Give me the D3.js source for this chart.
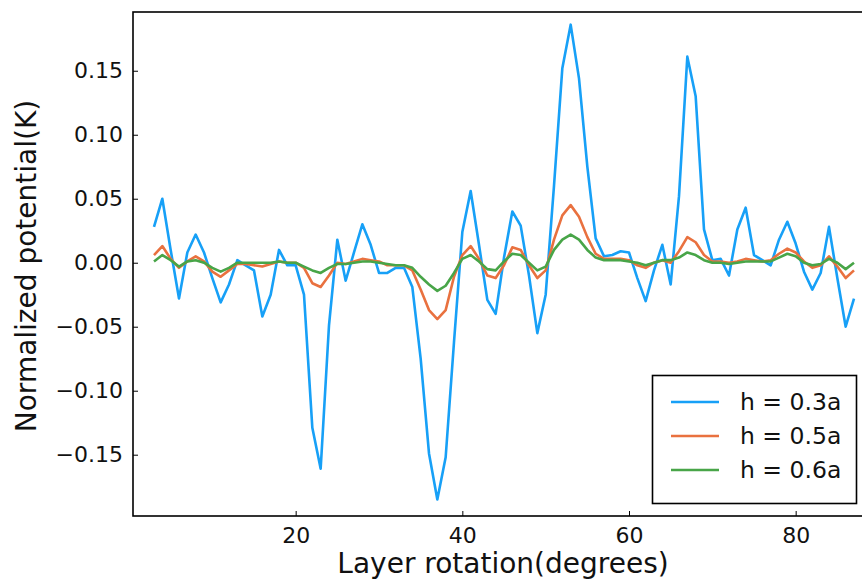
<!DOCTYPE html>
<html>
<head>
<meta charset="utf-8">
<script src="https://cdn.jsdelivr.net/npm/d3@7"></script>
<style>
  html, body { margin: 0; padding: 0; background: #fff; }
  svg { display: block; font-family: "DejaVu Sans", sans-serif; }
</style>
</head>
<body>
<svg id="chart" width="862" height="583"></svg>
<script>
const degrees = d3.range(3, 88);

const h03 = [0.028, 0.050, 0.010, -0.028, 0.008, 0.022, 0.008, -0.012, -0.031, -0.017,
  0.002, -0.002, -0.006, -0.042, -0.025, 0.010, -0.002, -0.002, -0.025, -0.129,
  -0.161, -0.049, 0.018, -0.014, 0.008, 0.030, 0.014, -0.008, -0.008, -0.004,
  -0.004, -0.019, -0.075, -0.149, -0.185, -0.152, -0.062, 0.024, 0.056, 0.014,
  -0.029, -0.040, 0.004, 0.040, 0.029, -0.010, -0.055, -0.025, 0.060, 0.152,
  0.186, 0.144, 0.075, 0.019, 0.005, 0.006, 0.009, 0.008, -0.012, -0.030,
  -0.006, 0.014, -0.017, 0.052, 0.161, 0.130, 0.026, 0.002, 0.003, -0.010,
  0.026, 0.043, 0.006, 0.002, -0.002, 0.018, 0.032, 0.015, -0.007, -0.021,
  -0.008, 0.028, -0.012, -0.050, -0.028];

const h05 = [0.006, 0.013, 0.003, -0.004, 0.001, 0.005, 0.001, -0.007, -0.011, -0.006,
  -0.001, -0.001, -0.002, -0.003, -0.001, 0.001, 0.000, 0.000, -0.004, -0.016,
  -0.019, -0.010, 0.000, -0.001, 0.001, 0.003, 0.002, 0.001, -0.002, -0.002,
  -0.002, -0.006, -0.021, -0.037, -0.044, -0.037, -0.011, 0.006, 0.013, 0.003,
  -0.010, -0.012, -0.002, 0.012, 0.010, -0.002, -0.012, -0.006, 0.018, 0.037,
  0.045, 0.036, 0.020, 0.007, 0.003, 0.003, 0.003, 0.002, -0.002, -0.004,
  0.000, 0.002, 0.000, 0.009, 0.020, 0.016, 0.006, 0.001, 0.001, 0.000,
  0.001, 0.003, 0.002, 0.001, 0.002, 0.007, 0.011, 0.008, 0.001, -0.004,
  -0.002, 0.005, -0.003, -0.012, -0.006];

const h06 = [0.001, 0.006, 0.002, -0.003, 0.001, 0.002, 0.000, -0.004, -0.007, -0.004,
  0.000, 0.000, 0.000, 0.000, 0.000, 0.001, 0.000, 0.000, -0.003, -0.006,
  -0.008, -0.004, -0.001, -0.001, 0.000, 0.001, 0.001, 0.000, -0.001, -0.002,
  -0.002, -0.004, -0.011, -0.017, -0.022, -0.018, -0.008, 0.003, 0.006, 0.001,
  -0.005, -0.006, 0.001, 0.007, 0.006, 0.000, -0.006, -0.003, 0.010, 0.018,
  0.022, 0.018, 0.010, 0.004, 0.002, 0.002, 0.002, 0.001, 0.000, -0.002,
  0.000, 0.002, 0.002, 0.004, 0.008, 0.006, 0.002, 0.000, 0.000, -0.001,
  0.000, 0.001, 0.001, 0.001, 0.001, 0.004, 0.007, 0.005, 0.000, -0.002,
  -0.001, 0.003, 0.000, -0.005, 0.000];

const seriesNames = ["h = 0.3a", "h = 0.5a", "h = 0.6a"];
const seriesColors = ["#17a0f7", "#e9713f", "#48a548"];
const xTicks = [20, 40, 60, 80];
const yTicks = [-0.15, -0.10, -0.05, 0.00, 0.05, 0.10, 0.15];

const series = [h03, h05, h06];

const svg = d3.select("#chart");
const L = 133, R = 866, T = 12, B = 516;

const x = d3.scaleLinear().domain([0.48, 88.44]).range([L, R]);
const y = d3.scaleLinear().domain([-0.1979, 0.1959]).range([B, T]);

svg.append("defs").append("clipPath").attr("id", "clip")
  .append("rect").attr("x", L).attr("y", T).attr("width", R - L).attr("height", B - T);

// lines
const line = d3.line().x((d, i) => x(degrees[i])).y(d => y(d));
const g = svg.append("g").attr("clip-path", "url(#clip)");
series.forEach((s, k) => {
  g.append("path").datum(s)
    .attr("fill", "none")
    .attr("stroke", seriesColors[k])
    .attr("stroke-width", 2.6)
    .attr("stroke-linejoin", "round")
    .attr("d", line);
});

// axes
const fmtY = v => d3.format(".2f")(v).replace("-", "\u2212");
const xAxis = d3.axisBottom(x).tickValues(xTicks).tickSizeInner(-5).tickSizeOuter(0).tickPadding(11);
const yAxis = d3.axisLeft(y).tickValues(yTicks).tickSizeInner(-5).tickSizeOuter(0).tickPadding(10).tickFormat(fmtY);

const gx = svg.append("g").attr("transform", `translate(0,${B})`).call(xAxis);
const gy = svg.append("g").attr("transform", `translate(${L},0)`).call(yAxis);
[gx, gy].forEach(a => {
  a.select(".domain").remove();
  a.selectAll(".tick line").attr("stroke", "#000").attr("stroke-width", 1);
  a.selectAll(".tick text").attr("fill", "#111").attr("font-size", 22).attr("font-family", "DejaVu Sans");
});

// spines
svg.append("rect").attr("x", L).attr("y", T).attr("width", R - L).attr("height", B - T)
  .attr("fill", "none").attr("stroke", "#000").attr("stroke-width", 1.6);

// axis labels
svg.append("text").attr("x", 503).attr("y", 573)
  .attr("text-anchor", "middle").attr("font-size", 28).attr("fill", "#111")
  .attr("font-family", "DejaVu Sans")
  .text("Layer rotation(degrees)");
svg.append("text").attr("transform", `translate(36,${(T + B) / 2 + 2}) rotate(-90)`)
  .attr("text-anchor", "middle").attr("font-size", 28).attr("fill", "#111")
  .attr("font-family", "DejaVu Sans")
  .text("Normalized potential(K)");

// legend
const lg = svg.append("g");
lg.append("rect").attr("x", 652.5).attr("y", 375.5).attr("width", 204).attr("height", 128)
  .attr("fill", "#fff").attr("stroke", "#000").attr("stroke-width", 1.6);
const rowsY = [402, 436, 470];
seriesNames.forEach((n, k) => {
  lg.append("line").attr("x1", 671).attr("x2", 719).attr("y1", rowsY[k]).attr("y2", rowsY[k])
    .attr("stroke", seriesColors[k]).attr("stroke-width", 2.6);
  lg.append("text").attr("x", 740).attr("y", rowsY[k]).attr("dy", "0.36em")
    .attr("font-size", 23.5).attr("fill", "#111").attr("font-family", "DejaVu Sans").text(n);
});
</script>
</body>
</html>
